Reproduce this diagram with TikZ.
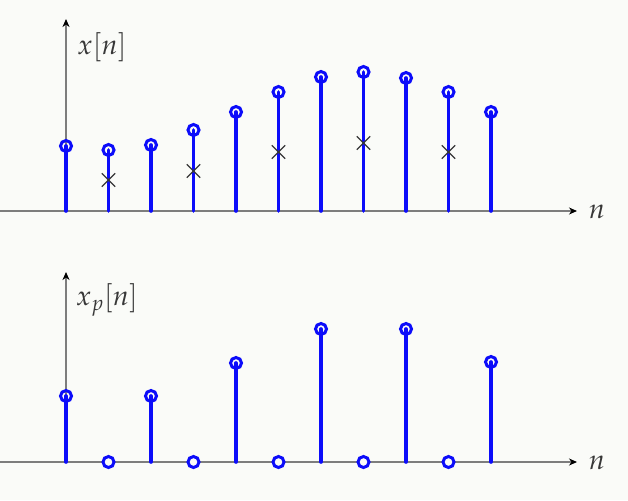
\documentclass[tikz,border=0pt]{standalone}
\usepackage{mathpazo}
\usetikzlibrary{arrows.meta,shapes.misc}
\definecolor{bg}{RGB}{250,251,248}
\definecolor{stemblue}{RGB}{12,12,250}
\definecolor{axisgray}{RGB}{125,125,125}
\definecolor{txt}{RGB}{55,55,55}
\begin{document}
\begin{tikzpicture}[x=1pt,y=-1pt,
  axis/.style={axisgray,line width=1.2pt,-{Stealth[length=8pt,width=7pt,inset=2.5pt,black]}},
  stemline/.style={stemblue,line width=3.6pt,line cap=round},
  tipcirc/.style={circle,draw=stemblue,line width=3pt,minimum size=11pt,inner sep=0pt},
  zerocirc/.style={tipcirc,fill=bg},
  xmark/.style={cross out,draw=txt,line width=1.3pt,minimum size=12pt,inner sep=0pt},
  lbl/.style={txt,font=\fontsize{28}{32}\selectfont,inner sep=0pt}]
\fill[bg] (0,0) rectangle (628,500);
\useasboundingbox (0,0) rectangle (628,500);
% axes
\coordinate (ta0) at (0,211);
\coordinate (ta1) at (577,211);
\coordinate (tv0) at (66,211);
\coordinate (tv1) at (66,19);
\coordinate (ba0) at (0,462);
\coordinate (ba1) at (577,462);
\coordinate (bv0) at (66,462);
\coordinate (bv1) at (66,272);
\draw[axis] (ta0) -- (ta1);
\draw[axis] (tv0) -- (tv1);
\draw[axis] (ba0) -- (ba1);
\draw[axis] (bv0) -- (bv1);
\node[lbl] (lx) at (102,47) {$x[n]$};
\node[lbl] (ln1) at (597,212) {$n$};
\node[lbl] (lxp) at (107,300) {$x_p[n]$};
\node[lbl] (ln2) at (597,463) {$n$};
% top stems
\foreach \i/\h in {0/146,1/150,2/145,3/130,4/112,5/92,6/77,7/72,8/78,9/92,10/112}{
  \coordinate (tb\i) at (66+42.5*\i,211);
  \node[tipcirc] (tt\i) at (66+42.5*\i,\h) {};
  \draw[stemline] (tb\i) -- (tt\i.center);
}
% crosses
\foreach \i/\h in {1/180,3/171,5/152,7/143,9/152}{
  \node[xmark] (cx\i) at (66+42.5*\i,\h) {};
}
% bottom stems
\foreach \i/\h in {0/396,2/396,4/363,6/329,8/329,10/362}{
  \coordinate (bb\i) at (66+42.5*\i,462);
  \node[tipcirc] (bt\i) at (66+42.5*\i,\h) {};
  \draw[stemline] (bb\i) -- (bt\i.center);
}
\foreach \i in {1,3,5,7,9}{
  \node[zerocirc] (bz\i) at (66+42.5*\i,462) {};
}
\end{tikzpicture}
\end{document}
